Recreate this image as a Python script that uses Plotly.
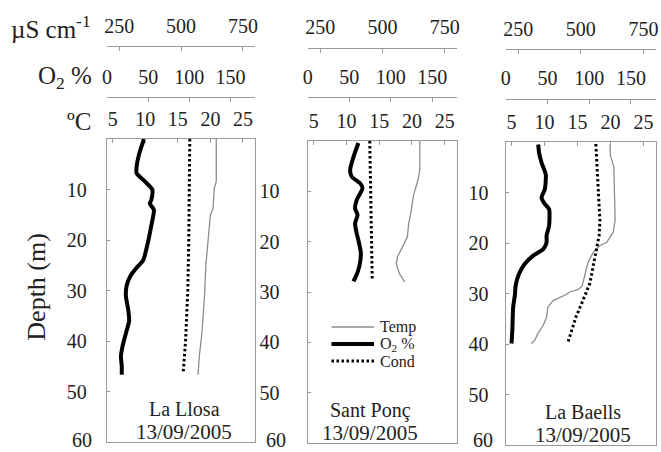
import plotly.graph_objects as go

# ---------------- data ----------------
sites = ["La Llosa", "Sant Ponç", "La Baells"]
dates = ["13/09/2005", "13/09/2005", "13/09/2005"]

# La Llosa
llosa_o2_depth = [0, 3, 5.5, 6.8, 8.4, 10, 12, 12.8, 14, 17, 21, 24, 25.3, 27, 29, 31, 34, 36, 38.5, 41, 43, 45, 46.7]
llosa_o2 = [45, 39, 36, 36, 46, 55, 54, 52, 57, 54, 49, 44, 37, 29, 24, 23, 26, 27, 23, 19, 17, 18, 18]
llosa_temp_depth = [0, 8.4, 9.8, 13.8, 15, 21, 25, 31, 38.4, 43, 46.7]
llosa_temp = [20.9, 20.9, 20.6, 20.4, 20.0, 19.6, 19.3, 19.1, 18.7, 18.3, 18.1]
llosa_cond_depth = [0, 10, 20, 30, 40, 46.5]
llosa_cond = [535, 534, 531, 527, 518, 508]

# Sant Ponç
ponc_o2_depth = [0.4, 3.2, 5.8, 7.1, 8.4, 9.4, 11.7, 13.4, 14.7, 16.4, 18.4, 19.7, 22.3, 25, 26.9, 27.9]
ponc_o2 = [61, 55, 51, 53, 63, 66, 59, 57, 60, 57, 59, 61, 64, 62, 58, 55]
ponc_temp_depth = [0, 5.8, 7.8, 9.8, 11, 13.8, 16.4, 19.1, 21.4, 23, 24.4, 26.4, 28]
ponc_temp = [21.2, 21.2, 20.9, 20.4, 20.2, 19.9, 19.5, 19.3, 18.4, 17.8, 17.6, 18.1, 18.9]
ponc_cond_depth = [0, 10, 20, 27.7]
ponc_cond = [449, 452, 456, 459]

# La Baells
baells_o2_depth = [0.5, 2.1, 4.1, 6.4, 9.3, 11, 12.3, 13.3, 16.6, 18.5, 19.9, 21.2, 22.5, 24.1, 26.1, 28.4, 30.4, 32.7, 37.3, 39.9]
baells_o2 = [39, 40, 43, 48, 47, 43, 47, 52, 52, 49, 49, 45, 33, 23, 16, 12, 11, 9, 8, 7]
baells_temp_depth = [0.5, 2.8, 4.8, 15.5, 17.9, 19.9, 20.5, 21.8, 23.8, 26.4, 28.5, 29.2, 29.7, 30.2, 31.4, 32.7, 34.7, 36.3, 37.9, 39.3, 39.9]
baells_temp = [19.9, 20.0, 20.5, 20.7, 20.4, 19.4, 18.4, 17.4, 16.6, 16.1, 15.7, 15.1, 13.8, 13.3, 11.3, 10.5, 10.3, 9.8, 9.0, 8.5, 8.0]
baells_cond_depth = [0.4, 8.2, 15.5, 18.5, 21.2, 25.1, 28, 31.4, 34.7, 39.6]
baells_cond = [560, 569, 576, 573, 563, 549, 536, 508, 480, 449]

temp_ticks = [5, 10, 15, 20, 25]
o2_ticks = [0, 50, 100, 150]
cond_ticks = [250, 500, 750]
depth_ticks = [10, 20, 30, 40, 50]
depth_bottom_label = "60"

data = [
    (llosa_temp_depth, llosa_temp, llosa_o2_depth, llosa_o2, llosa_cond_depth, llosa_cond),
    (ponc_temp_depth, ponc_temp, ponc_o2_depth, ponc_o2, ponc_cond_depth, ponc_cond),
    (baells_temp_depth, baells_temp, baells_o2_depth, baells_o2, baells_cond_depth, baells_cond),
]

# ---------------- layout geometry (pixels) ----------------
W, H = 661, 452
def fx(px):
    return px / W
def fy(py):
    return 1 - py / H

# left, right, top, bottom, o2 line y, cond line y, ylabel standoff, ylabel right edge
geom = [
    (103, 253, 139, 442, 97, 46, 15, 88),
    (306, 457, 141, 443, 97, 47.5, 23, 284),
    (506, 658, 142, 445, 98.5, 49, 12, 493),
]

FONT = "Liberation Serif, serif"
TXT = "#222222"
GRAY = "#9a9a9a"
tickfont = dict(family=FONT, size=20, color=TXT)

fig = go.Figure()
layout = dict(
    width=W, height=H,
    margin=dict(l=0, r=0, t=0, b=0),
    paper_bgcolor="white", plot_bgcolor="white",
    showlegend=False,
    font=dict(family=FONT, color=TXT),
)

for i, (td, tv, od, ov, cd, cv) in enumerate(data):
    nt, no, nc = 3 * i + 1, 3 * i + 2, 3 * i + 3
    xt = "x" if nt == 1 else f"x{nt}"
    xo, xc = f"x{no}", f"x{nc}"
    yy = "y" if i == 0 else f"y{i+1}"
    L, R, T, B, O2Y, CY, ystand, _ = geom[i]

    fig.add_trace(go.Scatter(x=tv, y=td, xaxis=xt, yaxis=yy, mode="lines",
                             line=dict(color="#8c8c8c", width=1.3), name="Temp"))
    fig.add_trace(go.Scatter(x=ov, y=od, xaxis=xo, yaxis=yy, mode="lines",
                             line=dict(color="black", width=4, shape="spline", smoothing=0.6),
                             name="O<sub>2</sub> %"))
    fig.add_trace(go.Scatter(x=cv, y=cd, xaxis=xc, yaxis=yy, mode="lines",
                             line=dict(color="black", width=3, dash="2.5px,2.5px"), name="Cond"))

    common = dict(showgrid=False, zeroline=False, showline=True, linecolor=GRAY,
                  linewidth=1.3, ticks="inside", tickcolor=GRAY, ticklen=4, tickwidth=1,
                  tickfont=tickfont, side="top", fixedrange=True)
    layout["xaxis" if nt == 1 else f"xaxis{nt}"] = dict(
        common, domain=[fx(L), fx(R)], anchor=yy, range=[4.1, 26.9],
        tickvals=temp_ticks, mirror=True, ticklabelstandoff=4)
    layout[f"xaxis{no}"] = dict(
        common, overlaying=xt, anchor="free", position=fy(O2Y), range=[0, 180],
        tickvals=o2_ticks, ticklabelstandoff=5)
    layout[f"xaxis{nc}"] = dict(
        common, overlaying=xt, anchor="free", position=fy(CY), range=[200, 800],
        tickvals=cond_ticks, ticklabelstandoff=5)
    layout["yaxis" if i == 0 else f"yaxis{i+1}"] = dict(
        domain=[fy(B), fy(T)], anchor=xt, range=[60, 0], tickvals=depth_ticks,
        showgrid=False, zeroline=False, showline=True, linecolor=GRAY, linewidth=1.3,
        mirror=True, ticks="inside", tickcolor=GRAY, ticklen=3, tickfont=tickfont,
        ticklabelstandoff=ystand, fixedrange=True)

fig.update_layout(**layout)

# axis titles
ann = []
tfont = dict(family=FONT, size=25, color=TXT)
ann.append(dict(text="µS cm<sup>-1</sup>", x=fx(89), y=fy(27), xref="paper", yref="paper",
                xanchor="right", yanchor="middle", showarrow=False, font=tfont))
ann.append(dict(text="O<sub>2</sub> %", x=fx(90), y=fy(78), xref="paper", yref="paper",
                xanchor="right", yanchor="middle", showarrow=False, font=tfont))
ann.append(dict(text="ºC", x=fx(89), y=fy(122), xref="paper", yref="paper",
                xanchor="right", yanchor="middle", showarrow=False, font=tfont))
ann.append(dict(text="Depth (m)", x=fx(31), y=fy(287), xref="paper", yref="paper", textangle=-90,
                xanchor="center", yanchor="middle", showarrow=False, font=dict(family=FONT, size=26, color=TXT)))

# bottom depth label of each panel (kept inside the page so nothing overflows)
for i in range(3):
    ann.append(dict(text=depth_bottom_label, x=fx(geom[i][7] + 1), y=0, xref="paper", yref="paper",
                    xanchor="right", yanchor="bottom", showarrow=False, borderpad=0,
                    font=tickfont))

# site labels
label_x = [181, 369, 584]
for i, (s, d) in enumerate(zip(sites, dates)):
    off = geom[i][3] - 442
    ann.append(dict(text=s, x=fx(label_x[i]), y=fy(409 + off), xref="paper", yref="paper",
                    xanchor="center", yanchor="middle", showarrow=False, font=dict(family=FONT, size=20, color=TXT)))
    ann.append(dict(text=d, x=fx(label_x[i]), y=fy(432 + off), xref="paper", yref="paper",
                    xanchor="center", yanchor="middle", showarrow=False, font=dict(family=FONT, size=21, color=TXT)))

# legend (drawn in Sant Ponç panel)
leg_items = [("Temp", dict(color="#8c8c8c", width=1.3)),
             ("O<sub>2</sub> %", dict(color="black", width=4)),
             ("Cond", dict(color="black", width=3, dash="2.5px,2.5px"))]
shapes = []
for k, (lab, ln) in enumerate(leg_items):
    yk = 327 + 17 * k
    shapes.append(dict(type="line", xref="paper", yref="paper", x0=fx(330), x1=fx(373),
                       y0=fy(yk), y1=fy(yk), line=ln))
    ann.append(dict(text=lab, x=fx(377), y=fy(yk), xref="paper", yref="paper",
                    xanchor="left", yanchor="middle", showarrow=False, font=dict(family=FONT, size=16, color=TXT)))

fig.update_layout(annotations=ann, shapes=shapes)

fig.write_html("out.html", config={"displayModeBar": False},
               post_script="document.body.style.margin='0';")
